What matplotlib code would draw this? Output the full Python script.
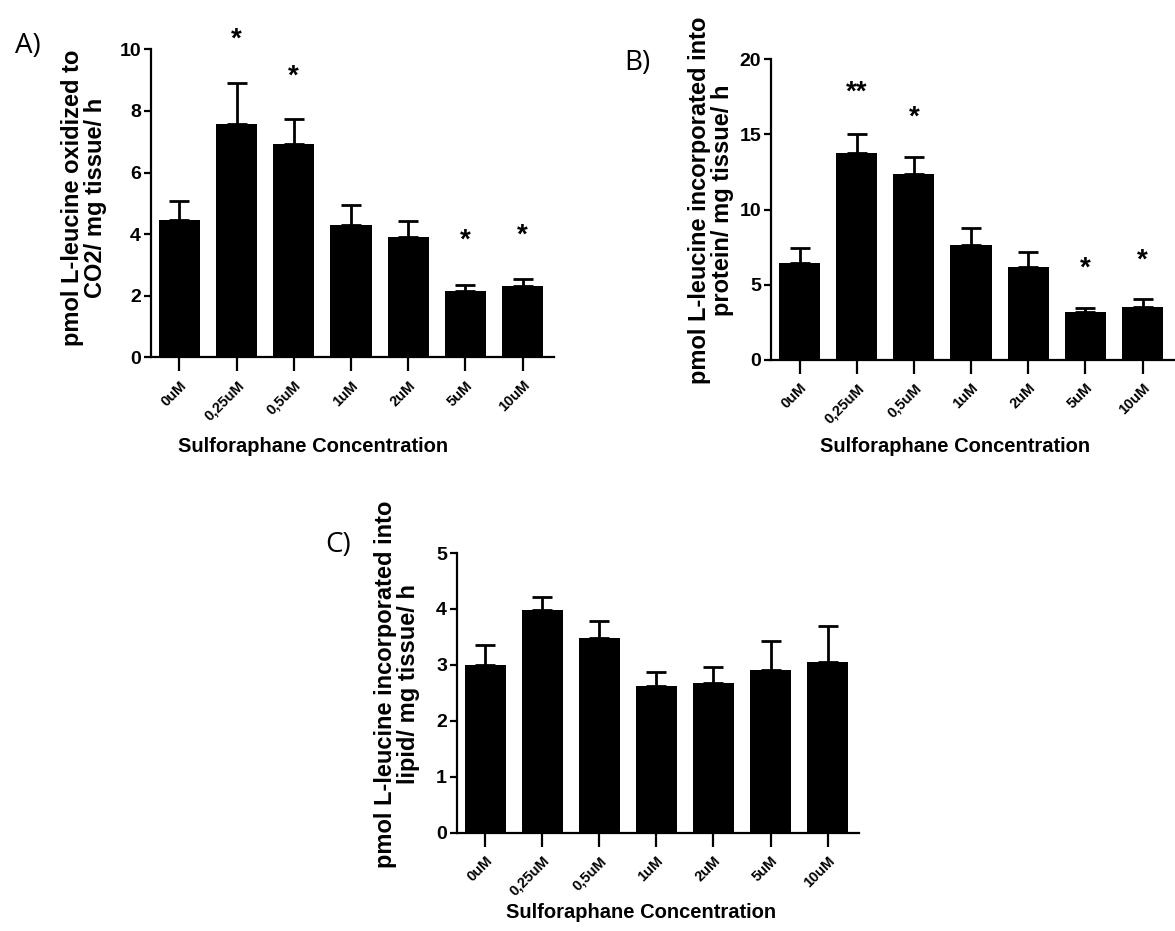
import matplotlib
matplotlib.use("Agg")
import matplotlib.pyplot as plt
import numpy as np

plt.rcParams['font.family'] = ['Liberation Sans', 'DejaVu Sans']

# data
conc = ["0uM", "0,25uM", "0,5uM", "1uM", "2uM", "5uM", "10uM"]

co2_mean = [4.46, 7.56, 6.91, 4.31, 3.90, 2.16, 2.31]
co2_top = [5.09, 8.90, 7.74, 4.95, 4.44, 2.34, 2.54]
co2_stars = ["", "*", "*", "", "", "*", "*"]
co2_star_y = [0, 10.3, 9.12, 0, 0, 3.8, 3.96]

prot_mean = [6.47, 13.75, 12.40, 7.65, 6.16, 3.17, 3.55]
prot_top = [7.43, 15.00, 13.50, 8.80, 7.16, 3.44, 4.04]
prot_stars = ["", "**", "*", "", "", "*", "*"]
prot_star_y = [0, 17.8, 16.1, 0, 0, 6.1, 6.6]

lip_mean = [3.00, 3.98, 3.48, 2.62, 2.67, 2.90, 3.05]
lip_top = [3.36, 4.21, 3.79, 2.88, 2.97, 3.43, 3.69]

W, H = 1175, 931


def fx(x):
    return x / W


def fy(y):
    return 1 - y / H


fig = plt.figure(figsize=(11.75, 9.31), dpi=100)


def draw_panel(rect, mean, top, ymax, ystep, stars=None, star_y=None):
    left, top_px, right, bottom_px = rect
    ax = fig.add_axes([fx(left), fy(bottom_px), fx(right - left), (bottom_px - top_px) / H])
    x = np.arange(len(conc))
    mean = np.array(mean)
    err = np.array(top) - mean
    # upper error bar only, drawn behind the bar
    ax.errorbar(x, mean, yerr=[np.zeros_like(err), err], fmt='none', ecolor='black',
                elinewidth=2, capsize=7.5, capthick=2, zorder=1)
    ax.bar(x, mean, width=0.72, color='black', zorder=2)
    if stars:
        for xi, s, sy in zip(x, stars, star_y):
            if s:
                ax.text(xi, sy, s, ha='center', va='center', fontsize=20,
                        fontweight='bold', clip_on=False)
    ax.set_xlim(-0.5, 6.55)
    ax.set_ylim(0, ymax)
    ax.set_yticks(np.arange(0, ymax + ystep / 2, ystep))
    ax.set_xticks(x)
    ax.set_xticklabels(conc, rotation=45, ha='right', rotation_mode='anchor',
                       fontsize=10.5, fontweight='bold')
    for lab in ax.get_yticklabels():
        lab.set_fontsize(14)
        lab.set_fontweight('bold')
    ax.spines['top'].set_visible(False)
    ax.spines['right'].set_visible(False)
    ax.spines['left'].set_linewidth(1.6)
    ax.spines['bottom'].set_linewidth(1.6)
    ax.tick_params(axis='y', length=5, width=1.6, pad=2)
    ax.tick_params(axis='x', length=10, width=1.6, pad=5)
    return ax


axA = draw_panel((150.7, 49.3, 554, 357.3), co2_mean, co2_top, 10, 2, co2_stars, co2_star_y)
axB = draw_panel((771, 59.3, 1174, 360), prot_mean, prot_top, 20, 5, prot_stars, prot_star_y)
axC = draw_panel((456.7, 553, 859, 832.7), lip_mean, lip_top, 5, 1)

# axis titles
ylab_kw = dict(rotation=90, ha='center', va='center', multialignment='center',
               fontsize=17, fontweight='bold', linespacing=0.98)
fig.text(fx(84), fy(198), "pmol L-leucine oxidized to\nCO2/ mg tissue/ h", **ylab_kw)
fig.text(fx(711), fy(200), "pmol L-leucine incorporated into\nprotein/ mg tissue/ h", **ylab_kw)
fig.text(fx(397), fy(684), "pmol L-leucine incorporated into\nlipid/ mg tissue/ h", **ylab_kw)

xlab_kw = dict(ha='center', va='center', fontsize=14.5, fontweight='bold')
fig.text(fx(313), fy(447), "Sulforaphane Concentration", **xlab_kw)
fig.text(fx(955), fy(447), "Sulforaphane Concentration", **xlab_kw)
fig.text(fx(641), fy(913), "Sulforaphane Concentration", **xlab_kw)

# panel letters
let_kw = dict(ha='center', va='center', fontsize=20, family=['Open Sans', 'DejaVu Sans'])
fig.text(fx(28), fy(46), "A)", **let_kw)
fig.text(fx(637), fy(63), "B)", **let_kw)
fig.text(fx(338), fy(545), "C)", **let_kw)

fig.savefig("out.png", dpi=100)
